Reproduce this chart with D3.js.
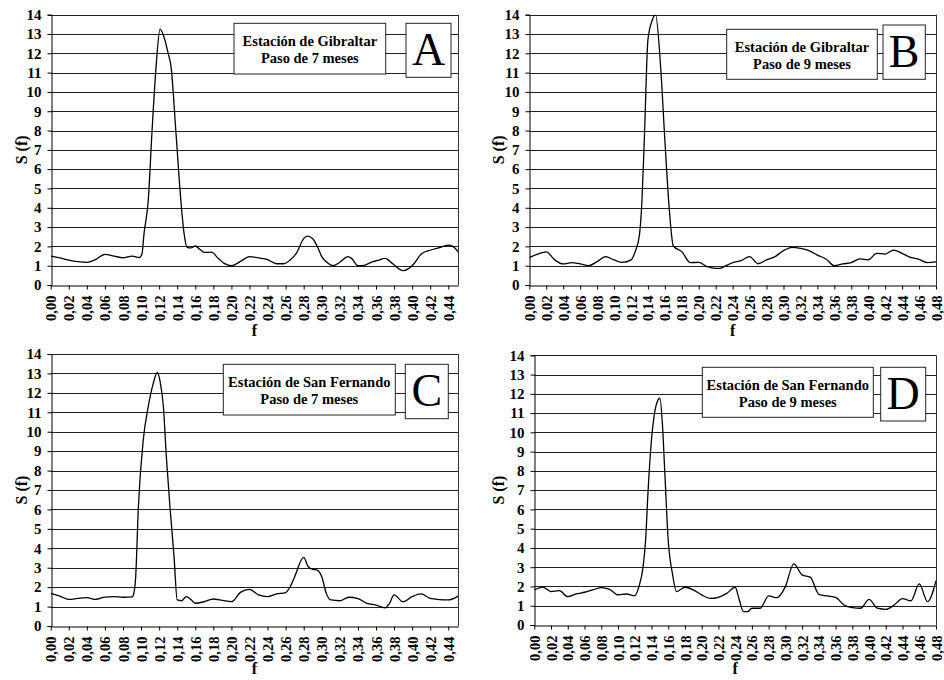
<!DOCTYPE html>
<html>
<head>
<meta charset="utf-8">
<script src="https://cdn.jsdelivr.net/npm/d3@7"></script>
<style>
  body { margin: 0; background: #fff; }
  svg { display: block; }
  text { font-family: "Liberation Serif", "Times New Roman", serif; }
</style>
</head>
<body>
<script>
// tick labels
var yTicks = [0,1,2,3,4,5,6,7,8,9,10,11,12,13,14];

// A - Gibraltar, 7 months
var freqA = [0,0.01,0.02,0.03,0.04,0.05,0.06,0.07,0.08,0.09,0.098,0.101,0.1033,0.108,0.112,0.1166,0.121,0.125,0.13,0.1332,0.1387,0.144,0.1476,0.151,0.155,0.16,0.165,0.17,0.178,0.185,0.192,0.2,0.21,0.22,0.23,0.24,0.25,0.258,0.265,0.272,0.28,0.284,0.29,0.296,0.3,0.305,0.3125,0.32,0.329,0.333,0.34,0.347,0.356,0.362,0.37,0.378,0.385,0.39,0.396,0.402,0.41,0.42,0.43,0.44,0.445,0.451];
var valA  = [1.5,1.4,1.29,1.21,1.17,1.33,1.59,1.5,1.41,1.5,1.42,1.6,2.67,4.4,7.85,11.3,13.25,12.9,12.0,11.3,7.85,4.4,2.67,1.95,1.92,2.02,1.85,1.69,1.7,1.4,1.12,1.0,1.22,1.47,1.4,1.32,1.1,1.1,1.3,1.65,2.4,2.53,2.4,1.9,1.47,1.2,1.0,1.18,1.47,1.38,1.0,1.02,1.2,1.27,1.38,1.12,0.85,0.74,0.85,1.1,1.6,1.8,1.93,2.07,2.0,1.72];

// B - Gibraltar, 9 months
var freqB = [0,0.01,0.02,0.03,0.04,0.05,0.06,0.07,0.08,0.09,0.1,0.11,0.12,0.125,0.13,0.133,0.136,0.14,0.145,0.149,0.155,0.16,0.165,0.17,0.18,0.19,0.2,0.21,0.22,0.225,0.23,0.24,0.25,0.26,0.27,0.28,0.29,0.3,0.31,0.32,0.33,0.34,0.35,0.36,0.37,0.38,0.39,0.4,0.41,0.42,0.43,0.44,0.45,0.46,0.47,0.48];
var valB  = [1.42,1.6,1.72,1.3,1.09,1.16,1.09,1.0,1.21,1.47,1.3,1.17,1.3,1.73,2.6,4.4,7.85,12.7,13.7,14.0,11.3,7.5,4.05,2.02,1.73,1.16,1.17,0.95,0.86,0.86,0.95,1.16,1.26,1.47,1.1,1.3,1.47,1.78,1.95,1.9,1.78,1.55,1.35,1.0,1.09,1.16,1.35,1.3,1.64,1.6,1.81,1.64,1.43,1.33,1.16,1.2];

// C - San Fernando, 7 months
var freqC = [0,0.01,0.02,0.03,0.04,0.05,0.06,0.07,0.08,0.09,0.0915,0.094,0.097,0.1025,0.108,0.1136,0.118,0.121,0.1247,0.128,0.132,0.1365,0.14,0.145,0.15,0.155,0.16,0.17,0.18,0.19,0.2,0.21,0.22,0.23,0.24,0.25,0.26,0.265,0.27,0.28,0.285,0.29,0.295,0.3,0.305,0.31,0.32,0.33,0.34,0.35,0.36,0.37,0.375,0.38,0.39,0.4,0.41,0.42,0.43,0.44,0.451];
var valC  = [1.68,1.54,1.37,1.42,1.46,1.37,1.49,1.51,1.48,1.5,1.6,2.5,6.1,9.6,11.3,12.5,13.05,12.6,11.3,8.7,6.14,3.57,1.34,1.3,1.51,1.37,1.17,1.25,1.39,1.32,1.25,1.73,1.89,1.6,1.51,1.65,1.72,2.02,2.54,3.53,3.05,2.92,2.88,2.54,1.68,1.34,1.3,1.48,1.41,1.17,1.08,0.94,1.17,1.6,1.25,1.51,1.65,1.42,1.36,1.34,1.54];

// D - San Fernando, 9 months
var freqD = [0,0.01,0.02,0.03,0.04,0.05,0.06,0.07,0.08,0.09,0.1,0.11,0.12,0.125,0.13,0.133,0.136,0.14,0.143,0.147,0.15,0.153,0.156,0.16,0.165,0.17,0.175,0.18,0.19,0.2,0.21,0.22,0.23,0.24,0.245,0.25,0.255,0.26,0.27,0.28,0.29,0.3,0.31,0.32,0.33,0.34,0.35,0.36,0.37,0.38,0.39,0.4,0.41,0.42,0.43,0.44,0.45,0.46,0.47,0.48];
var valD  = [1.82,1.97,1.73,1.78,1.47,1.61,1.7,1.82,1.94,1.85,1.56,1.61,1.52,1.99,3.03,4.41,7.0,9.6,10.8,11.6,11.77,10.5,7.87,4.41,2.68,1.73,1.85,1.96,1.82,1.56,1.38,1.44,1.64,1.96,1.3,0.69,0.69,0.87,0.87,1.51,1.42,1.99,3.17,2.6,2.47,1.59,1.51,1.44,1.04,0.9,0.87,1.33,0.87,0.81,1.04,1.37,1.25,2.13,1.21,2.3];

var fmt = function(d) { return d.toFixed(2).replace(".", ","); };
var serif = "'Liberation Serif', 'Times New Roman', serif";

var svg = d3.select("body").append("svg")
  .attr("width", 944)
  .attr("height", 680)
  .attr("font-family", serif);

// panel frames (pixel positions)
var panels = [
  {id:"A", f:freqA, v:valA, xmax:0.4511, left:50.7, right:458.3, top:14.7, bottom:285,
   station:"Estación de Gibraltar", step:"Paso de 7 meses",
   box:[234,23.3,151.7,50.7], lbox:[406,23.3,45,54], ylab:22, flab:336},
  {id:"B", f:freqB, v:valB, xmax:0.48, left:529.3, right:936, top:14.7, bottom:285,
   station:"Estación de Gibraltar", step:"Paso de 9 meses",
   box:[726.7,29.3,150.6,50], lbox:[883,25,42.3,54.3], ylab:498.5, flab:336},
  {id:"C", f:freqC, v:valC, xmax:0.4511, left:50.7, right:458.3, top:354, bottom:626,
   station:"Estación de San Fernando", step:"Paso de 7 meses",
   box:[223.3,364.3,172,50.7], lbox:[405.3,364.3,43,54.4], ylab:22, flab:674},
  {id:"D", f:freqD, v:valD, xmax:0.48, left:534.3, right:936, top:355.3, bottom:625,
   station:"Estación de San Fernando", step:"Paso de 9 meses",
   box:[702.3,367.3,171,50], lbox:[880.7,367.3,45,53.7], ylab:498.5, flab:674}
];

panels.forEach(function(p, i) {
  var x = d3.scaleLinear().domain([0, p.xmax]).range([p.left, p.right]);
  var y = d3.scaleLinear().domain([0, 14]).range([p.bottom, p.top]);
  var g = svg.append("g");

  // horizontal grid lines
  g.selectAll(".grid")
    .data(yTicks.slice(1))
    .enter().append("line")
    .attr("x1", p.left).attr("x2", p.right)
    .attr("y1", function(d) { return Math.round(y(d)) + 0.5; })
    .attr("y2", function(d) { return Math.round(y(d)) + 0.5; })
    .attr("stroke", "#222")
    .attr("stroke-width", 1);

  // right border
  g.append("line")
    .attr("x1", Math.round(p.right) + 0.5).attr("x2", Math.round(p.right) + 0.5)
    .attr("y1", p.top).attr("y2", p.bottom)
    .attr("stroke", "#333");

  // clipped spectrum line
  g.append("clipPath").attr("id", "clip" + i)
    .append("rect")
    .attr("x", p.left).attr("y", p.top)
    .attr("width", p.right - p.left).attr("height", p.bottom - p.top);

  var pts = p.f.map(function(f, k) { return [f, p.v[k]]; });
  var line = d3.line()
    .x(function(d) { return x(d[0]); })
    .y(function(d) { return y(d[1]); })
    .curve(d3.curveMonotoneX);

  g.append("path")
    .datum(pts)
    .attr("clip-path", "url(#clip" + i + ")")
    .attr("fill", "none")
    .attr("stroke", "#000")
    .attr("stroke-width", 1.3)
    .attr("d", line);

  // y axis
  var yAxis = d3.axisLeft(y).tickValues(yTicks).tickSize(4).tickPadding(6);
  var ya = g.append("g")
    .attr("transform", "translate(" + (Math.round(p.left) + 0.5) + ",0)")
    .call(yAxis)
    .attr("font-family", serif).attr("font-size", 15).attr("font-weight", "bold");
  ya.selectAll("text").attr("fill", "#000");

  // x axis
  var xt = d3.range(0, p.xmax + 0.0001, 0.02);
  var xAxis = d3.axisBottom(x).tickValues(xt).tickFormat(fmt).tickSize(4).tickSizeOuter(0);
  var xa = g.append("g")
    .attr("transform", "translate(0," + (Math.round(p.bottom) + 0.5) + ")")
    .call(xAxis)
    .attr("font-family", serif).attr("font-size", 14.5).attr("font-weight", "bold");
  xa.selectAll("text")
    .style("text-anchor", "end")
    .attr("fill", "#000")
    .attr("dx", "-10px")
    .attr("dy", "0.35em")
    .attr("y", 0)
    .attr("x", 0)
    .attr("transform", "rotate(-90)");
  [ya, xa].forEach(function(a) {
    a.select(".domain").attr("stroke", "#000");
    a.selectAll(".tick line").attr("stroke", "#000");
  });

  // axis titles
  g.append("text")
    .attr("transform", "translate(" + (p.ylab + 5) + "," + ((p.top + p.bottom) / 2) + ") rotate(-90)")
    .attr("text-anchor", "middle")
    .attr("font-size", 16).attr("font-weight", "bold")
    .text("S (f)");
  g.append("text")
    .attr("x", (p.left + p.right) / 2)
    .attr("y", p.flab)
    .attr("text-anchor", "middle")
    .attr("font-size", 16).attr("font-weight", "bold")
    .text("f");

  // annotation boxes
  g.append("rect")
    .attr("x", p.box[0]).attr("y", p.box[1])
    .attr("width", p.box[2]).attr("height", p.box[3])
    .attr("fill", "#fff").attr("stroke", "#222").attr("stroke-width", 1);
  g.append("text")
    .attr("x", p.box[0] + p.box[2] / 2).attr("y", p.box[1] + 22.5)
    .attr("text-anchor", "middle")
    .attr("font-size", 14.5).attr("font-weight", "bold")
    .text(p.station);
  g.append("text")
    .attr("x", p.box[0] + p.box[2] / 2).attr("y", p.box[1] + 40)
    .attr("text-anchor", "middle")
    .attr("font-size", 14.5).attr("font-weight", "bold")
    .text(p.step);

  g.append("rect")
    .attr("x", p.lbox[0]).attr("y", p.lbox[1])
    .attr("width", p.lbox[2]).attr("height", p.lbox[3])
    .attr("fill", "#fff").attr("stroke", "#222").attr("stroke-width", 1);
  g.append("text")
    .attr("x", p.lbox[0] + p.lbox[2] / 2).attr("y", p.lbox[1] + 42)
    .attr("text-anchor", "middle")
    .attr("font-size", 46)
    .text(p.id);
});
</script>
</body>
</html>
